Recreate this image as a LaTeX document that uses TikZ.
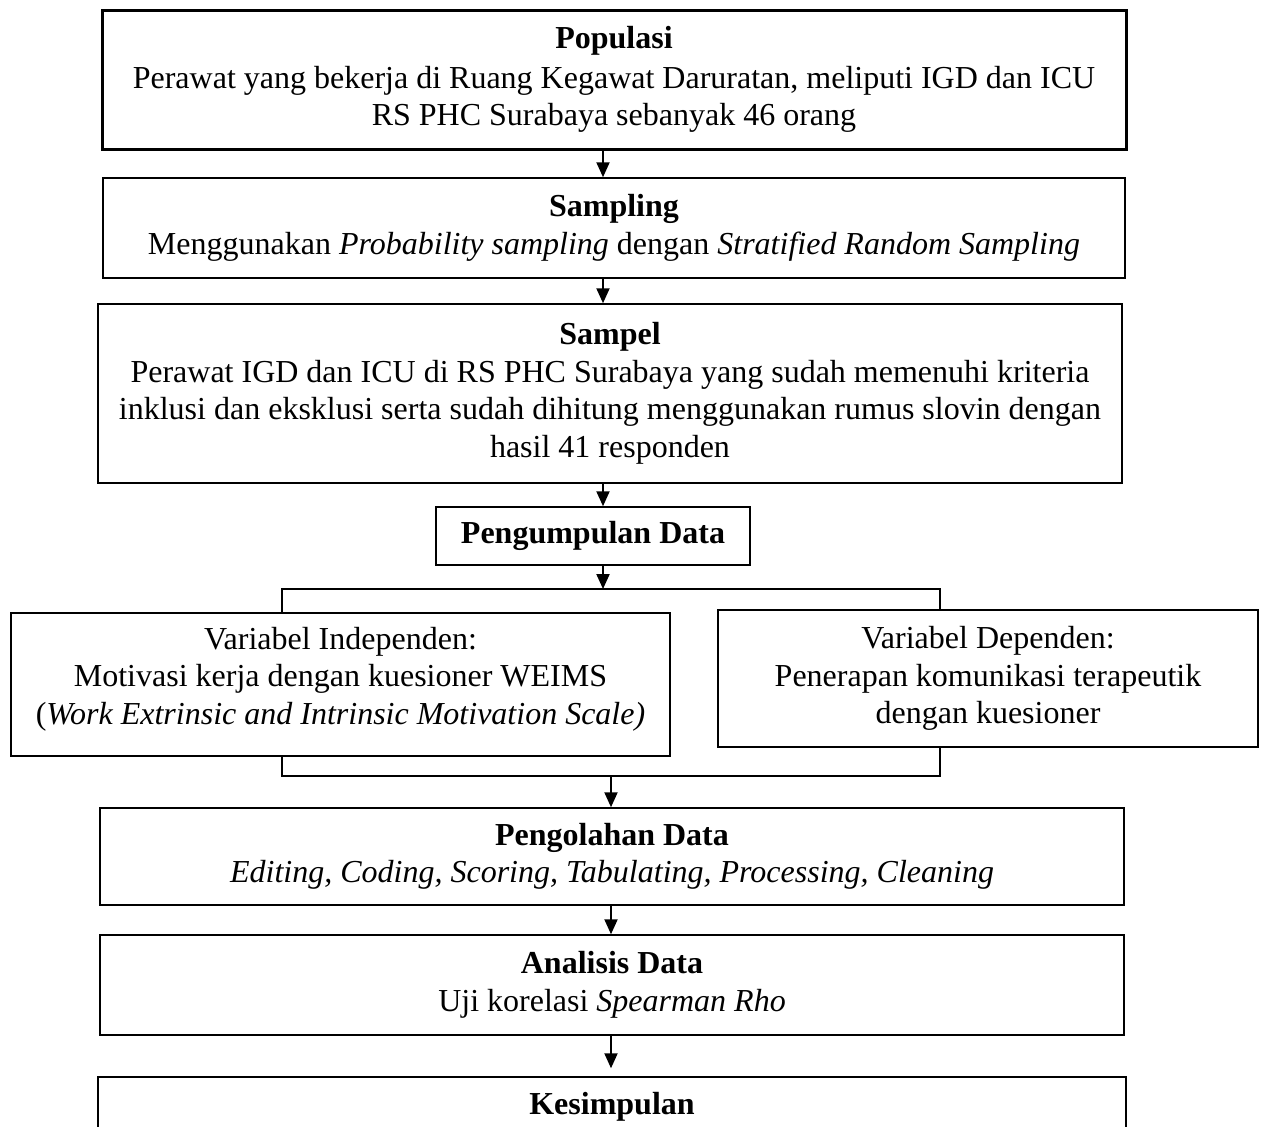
\documentclass[tikz,border=0pt]{standalone}
\usepackage{fontspec}
\setmainfont{Liberation Serif}
\usepackage{tikz}
\usetikzlibrary{arrows.meta,calc}

\begin{document}
\begin{tikzpicture}[x=0.5pt, y=-0.5pt,
  every node/.style={font=\fontsize{16}{18.75}\selectfont},
  flowbox/.style={draw, line width=0.75pt, fill=white, inner sep=2pt, align=center},
  flowarrow/.style={-{Triangle[length=7.5pt,width=6.5pt]}, line width=1pt},
  bracketline/.style={line width=1.1pt}]
\useasboundingbox (0,0) rectangle (1262,1126);
\clip (0,0) rectangle (1262,1126);

\node[flowbox, line width=1.5pt, minimum width=512pt, minimum height=69.5pt] (pop) at (614,79.5) {\textbf{Populasi}\\[1pt]Perawat yang bekerja di Ruang Kegawat Daruratan, meliputi IGD dan ICU\\RS PHC Surabaya sebanyak 46 orang};

\node[flowbox, minimum width=511pt, minimum height=50pt] (samp) at (614,228) {\textbf{Sampling}\\Menggunakan \textit{Probability sampling} dengan \textit{Stratified Random Sampling}};

\node[flowbox, minimum width=512pt, minimum height=89.5pt] (sampel) at (610,393.5) {\textbf{Sampel}\\Perawat IGD dan ICU di RS PHC Surabaya yang sudah memenuhi kriteria\\inklusi dan eksklusi serta sudah dihitung menggunakan rumus slovin dengan\\hasil 41 responden};

\node[flowbox, minimum width=157pt, minimum height=29pt] (kumpul) at (593,536) {\textbf{Pengumpulan Data}};

\node[flowbox, minimum width=329.5pt, minimum height=71.5pt] (indep) at (340.5,684.5) {Variabel Independen:\\Motivasi kerja dengan kuesioner WEIMS\\(\textit{Work Extrinsic and Intrinsic Motivation Scale)}\\[-10pt]};

\node[flowbox, minimum width=270pt, minimum height=68.5pt] (dep) at (988,678.5) {Variabel Dependen:\\Penerapan komunikasi terapeutik\\dengan kuesioner};

\node[flowbox, minimum width=512pt, minimum height=48.5pt] (olah) at (612,856.5) {\textbf{Pengolahan Data}\\\textit{Editing, Coding, Scoring, Tabulating, Processing, Cleaning}};

\node[flowbox, minimum width=512pt, minimum height=50pt] (anal) at (612,985) {\textbf{Analisis Data}\\Uji korelasi \textit{Spearman Rho}};

\node[flowbox, minimum width=514pt, minimum height=30pt] (kesim) at (612,1107) {\textbf{Kesimpulan}};

% branch points
\coordinate (topax) at (603,0);
\coordinate (lowax) at (611,0);
\coordinate (splitL) at (282,589);
\coordinate (splitR) at (940,589);
\coordinate (joinL) at (282,776);
\coordinate (joinR) at (940,776);

\draw[flowarrow] (pop.south -| topax) -- (samp.north -| topax);
\draw[flowarrow] (samp.south -| topax) -- (sampel.north -| topax);
\draw[flowarrow] (sampel.south -| topax) -- (kumpul.north -| topax);
\draw[flowarrow] (kumpul.south -| topax) -- (splitL -| topax);

\draw[bracketline] (indep.north -| splitL) -- (splitL) -- (splitR) -- (dep.north -| splitR);
\draw[bracketline] (indep.south -| joinL) -- (joinL) -- (joinR) -- (dep.south -| joinR);

\draw[flowarrow] (joinL -| lowax) -- (olah.north -| lowax);
\draw[flowarrow] (olah.south -| lowax) -- (anal.north -| lowax);
\draw[flowarrow] (anal.south -| lowax) -- ($(kesim.north -| lowax)+(0,-8)$);
\end{tikzpicture}
\end{document}
